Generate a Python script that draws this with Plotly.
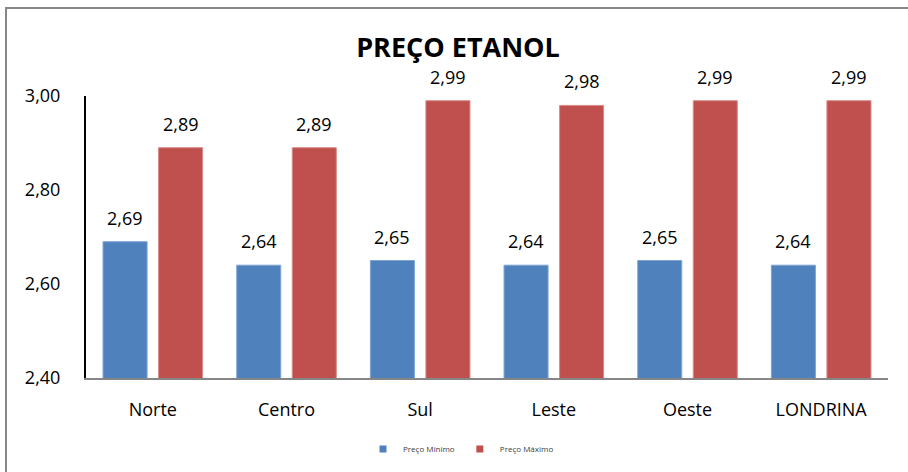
import plotly.graph_objects as go

categories = ["Norte", "Centro", "Sul", "Leste", "Oeste", "LONDRINA"]
preco_minimo = [2.69, 2.64, 2.65, 2.64, 2.65, 2.64]
preco_maximo = [2.89, 2.89, 2.99, 2.98, 2.99, 2.99]
series_names = ["Preço Mínimo", "Preço Máximo"]
y_ticks = [2.40, 2.60, 2.80, 3.00]

BLUE = "#4F81BD"
RED = "#C0504D"
FONT = "Open Sans"

fig = go.Figure()
fig.add_trace(go.Bar(x=categories, y=preco_minimo, name=series_names[0], showlegend=False,
                     marker=dict(color=BLUE, line=dict(color="#7FA3D3", width=1))))
fig.add_trace(go.Bar(x=categories, y=preco_maximo, name=series_names[1], showlegend=False,
                     marker=dict(color=RED, line=dict(color="#D98A88", width=1))))
# small square legend entries
for nm, col in zip(series_names, (BLUE, RED)):
    fig.add_trace(go.Scatter(x=[None], y=[None], mode="markers", name=nm,
                             marker=dict(symbol="square", size=7, color=col)))

# data labels
slot_px = 27.8
for vals, sh in ((preco_minimo, -slot_px), (preco_maximo, slot_px)):
    for c, v in zip(categories, vals):
        fig.add_annotation(x=c, y=v, xshift=sh, yshift=24, showarrow=False,
                           text=f"{v:.2f}".replace(".", ","),
                           font=dict(family=FONT, size=18, color="#000000"),
                           xanchor="center", yanchor="middle")

# outer chart border
fig.add_shape(type="rect", xref="paper", yref="paper",
              x0=(6 - 86) / 802, x1=(930 - 86) / 802,
              y0=(378 - 490) / 282, y1=(378 - 8) / 282,
              line=dict(color="#888888", width=2), fillcolor="rgba(0,0,0,0)", layer="below")

fig.update_layout(
    width=908, height=472,
    margin=dict(l=86, r=20, t=96, b=94, autoexpand=False),
    paper_bgcolor="white", plot_bgcolor="white",
    separators=", ",
    barmode="group", bargap=0.169, bargroupgap=0.207,
    title=dict(text="<b>PREÇO ETANOL</b>", x=(458 / 908), xanchor="center",
               y=1 - 48 / 472, yanchor="middle",
               font=dict(family=FONT, size=27, color="#000000")),
    xaxis=dict(showline=True, linecolor="#868686", linewidth=2, ticks="",
               tickfont=dict(family=FONT, size=18, color="#000000"),
               ticklabelstandoff=14, showgrid=False, zeroline=False),
    yaxis=dict(range=[2.40, 3.00], tickvals=y_ticks, tickformat=".2f",
               showline=True, linecolor="#000000", linewidth=2, ticks="",
               tickfont=dict(family=FONT, size=18, color="#000000"),
               ticklabelstandoff=20, showgrid=False, zeroline=False),
    legend=dict(orientation="h", x=(461 - 86) / 802, xanchor="center",
                y=(378 - 449) / 282, yanchor="middle",
                font=dict(family=FONT, size=8, color="#404040"),
                itemwidth=30, tracegroupgap=0),
)

fig.write_html("out.html", config={"displayModeBar": False},
               post_script="document.body.style.margin='0px';document.body.style.overflow='hidden';")
